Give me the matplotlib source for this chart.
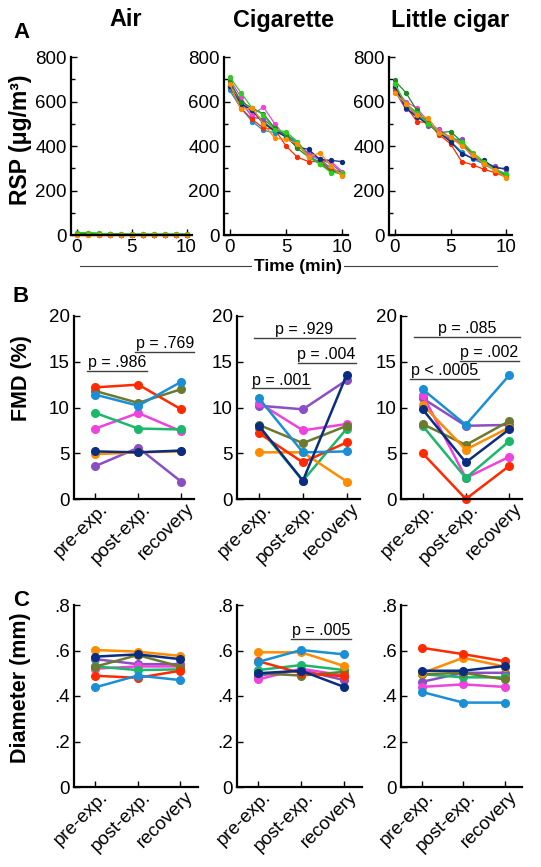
import matplotlib.pyplot as plt
from matplotlib.lines import Line2D
from matplotlib.ticker import MultipleLocator, FuncFormatter
import matplotlib.transforms as mtransforms

plt.rcParams['font.family'] = ['Liberation Sans', 'DejaVu Sans']

FS = 13.5      # tick labels
FS_P = 11.5    # p values

# colours of the subjects
c_red = '#ff2a00'
c_orange = '#ff8c00'
c_navy = '#0b2d80'
c_lblue = '#1a8fd6'
c_teal = '#19b86a'
c_olive = '#6b7a2e'
c_purple = '#8a4fc2'
c_magenta = '#ee44dd'
c_green = '#2fcc20'
c_dgreen = '#1f8a22'

# ---- panel A: RSP over time ----
time_min = [0, 1, 2, 3, 4, 5, 6, 7, 8, 9, 10]
colors_A = [c_teal, c_olive, c_purple, c_magenta, c_lblue, c_red, c_navy, c_dgreen, c_green, c_orange]

rsp_air = [
    [3, 3, 3, 2, 2, 2, 2, 2, 2, 2, 2],
    [4, 4, 3, 3, 2, 2, 2, 2, 2, 2, 2],
    [3, 3, 2, 2, 2, 2, 2, 2, 2, 2, 2],
    [3, 3, 3, 2, 2, 2, 2, 2, 2, 2, 2],
    [3, 3, 2, 2, 2, 2, 2, 2, 2, 2, 2],
    [2, 2, 2, 2, 2, 2, 2, 2, 2, 2, 2],
    [4, 3, 3, 3, 2, 2, 2, 2, 2, 2, 2],
    [10, 9, 7, 5, 4, 3, 3, 3, 3, 3, 3],
    [11, 11, 8, 5, 4, 3, 3, 3, 3, 3, 3],
    [2, 2, 2, 2, 2, 2, 2, 2, 2, 2, 2],
]
rsp_cig = [
    [670, 590, 560, 510, 460, 455, 410, 360, 320, 290, 280],
    [660, 590, 560, 510, 470, 450, 420, 360, 340, 300, 280],
    [690, 600, 530, 520, 480, 440, 400, 370, 340, 320, 280],
    [700, 620, 540, 575, 500, 440, 410, 360, 340, 330, 285],
    [650, 570, 510, 470, 460, 450, 410, 350, 330, 300, 275],
    [670, 570, 520, 480, 475, 400, 350, 330, 330, 290, 270],
    [670, 590, 560, 500, 470, 440, 395, 385, 340, 335, 330],
    [690, 600, 570, 545, 480, 450, 390, 350, 320, 285, 280],
    [710, 640, 570, 540, 470, 465, 420, 350, 320, 280, 280],
    [680, 565, 570, 500, 435, 430, 410, 350, 370, 310, 265],
]
rsp_lc = [
    [670, 590, 550, 505, 455, 430, 420, 360, 325, 295, 275],
    [680, 580, 550, 500, 455, 430, 410, 355, 320, 295, 270],
    [650, 565, 540, 490, 475, 430, 430, 350, 320, 310, 290],
    [660, 600, 570, 510, 470, 440, 410, 350, 320, 290, 265],
    [660, 580, 540, 500, 460, 420, 375, 340, 320, 290, 270],
    [660, 580, 510, 505, 450, 410, 330, 315, 295, 280, 260],
    [670, 570, 530, 500, 460, 420, 365, 345, 335, 300, 300],
    [695, 640, 560, 500, 460, 465, 420, 360, 320, 290, 270],
    [680, 590, 550, 500, 460, 440, 420, 370, 330, 290, 275],
    [640, 590, 540, 525, 460, 440, 400, 360, 320, 290, 255],
]

# ---- panels B and C: per subject pre-exp., post-exp., recovery ----
phases = ['pre-exp.', 'post-exp.', 'recovery']
colors_BC = [c_purple, c_magenta, c_teal, c_olive, c_orange, c_red, c_lblue, c_navy]

fmd_air = [
    [3.6, 5.6, 1.9],
    [7.7, 9.4, 7.4],
    [9.4, 7.7, 7.6],
    [11.8, 10.5, 12.0],
    [4.9, 5.1, 5.2],
    [12.2, 12.5, 9.8],
    [11.4, 10.2, 12.8],
    [5.2, 5.1, 5.3],
]
fmd_cig = [
    [10.2, 9.8, 13.0],
    [10.5, 7.5, 8.2],
    [7.8, 2.0, 7.7],
    [8.1, 6.1, 8.0],
    [5.1, 5.1, 1.9],
    [7.2, 4.0, 6.2],
    [11.0, 5.1, 5.2],
    [8.0, 2.0, 13.6],
]
fmd_lc = [
    [11.0, 8.0, 8.1],
    [11.4, 2.3, 4.6],
    [8.0, 2.3, 6.3],
    [8.2, 5.9, 8.5],
    [10.3, 5.4, 7.8],
    [5.0, 0.0, 3.6],
    [12.0, 8.1, 13.5],
    [9.8, 4.0, 7.6],
]

diam_air = [
    [0.562, 0.540, 0.540],
    [0.520, 0.530, 0.530],
    [0.530, 0.514, 0.517],
    [0.529, 0.580, 0.529],
    [0.602, 0.595, 0.576],
    [0.489, 0.480, 0.511],
    [0.438, 0.490, 0.470],
    [0.573, 0.583, 0.562],
]
diam_cig = [
    [0.490, 0.514, 0.470],
    [0.473, 0.520, 0.490],
    [0.514, 0.536, 0.514],
    [0.500, 0.490, 0.506],
    [0.592, 0.592, 0.532],
    [0.553, 0.500, 0.487],
    [0.550, 0.602, 0.583],
    [0.500, 0.511, 0.440],
]
diam_lc = [
    [0.462, 0.502, 0.502],
    [0.440, 0.451, 0.440],
    [0.496, 0.482, 0.482],
    [0.496, 0.502, 0.473],
    [0.500, 0.568, 0.529],
    [0.612, 0.584, 0.553],
    [0.418, 0.371, 0.371],
    [0.511, 0.511, 0.532],
]

W, H = 541, 867
fig = plt.figure(figsize=(W / 100, H / 100), dpi=100)


def add_ax(x0, x1, ytop, ybot):
    return fig.add_axes([x0 / W, 1 - ybot / H, (x1 - x0) / W, (ybot - ytop) / H])


def style(ax):
    for s in ['top', 'right']:
        ax.spines[s].set_visible(False)
    for s in ['left', 'bottom']:
        ax.spines[s].set_linewidth(1.6)
    ax.tick_params(which='both', direction='in', labelsize=FS, width=1, pad=3)
    ax.tick_params(which='major', length=4)
    ax.tick_params(which='minor', length=3)


def bracket(ax, x0, x1, y, txt):
    ax.plot([x0, x1], [y, y], color='#404040', linewidth=1, clip_on=False)
    ax.annotate(txt, xy=((x0 + x1) / 2, y), xytext=(0, 0.5), textcoords='offset points',
                ha='center', va='bottom', fontsize=FS_P, annotation_clip=False)


# panel A
axA = [add_ax(71, 192, 57, 235), add_ax(224, 348, 57, 235), add_ax(389, 512, 57, 235)]
for ax, data in zip(axA, [rsp_air, rsp_cig, rsp_lc]):
    for col, y in zip(colors_A, data):
        ax.plot(time_min, y, '-o', color=col, linewidth=0.9, markersize=2.8, clip_on=False)
    style(ax)
    ax.set_xlim(-0.5, 10.5)
    ax.set_ylim(0, 800)
    ax.set_xticks([0, 5, 10])
    ax.yaxis.set_major_locator(MultipleLocator(200))
    ax.yaxis.set_minor_locator(MultipleLocator(100))

# panel B
axB = [add_ax(74, 194, 316, 499), add_ax(237, 360, 316, 499), add_ax(401, 522, 316, 499)]
# panel C
axC = [add_ax(74, 198, 605, 787), add_ax(237, 362, 605, 787), add_ax(401, 522, 605, 787)]

for ax, data in zip(axB + axC, [fmd_air, fmd_cig, fmd_lc, diam_air, diam_cig, diam_lc]):
    for col, y in zip(colors_BC, data):
        ax.plot([1, 2, 3], y, '-o', color=col, linewidth=1.8, markersize=5.5, clip_on=False)
    style(ax)
    ax.set_xticks([1, 2, 3])
    ax.set_xticklabels(phases, rotation=45, ha='right', va='center', rotation_mode='anchor')
    offset = mtransforms.ScaledTranslation(10 / 100, -3 / 100, fig.dpi_scale_trans)
    for lab in ax.get_xticklabels():
        lab.set_transform(lab.get_transform() + offset)

for ax in axB:
    ax.set_xlim(0.5, 3.3)
    ax.set_ylim(0, 20)
    ax.set_yticks([0, 5, 10, 15, 20])

for ax in axC:
    ax.set_xlim(0.5, 3.42)
    ax.set_ylim(0, 0.8)
    ax.set_yticks([0, 0.2, 0.4, 0.6, 0.8])
    ax.yaxis.set_major_formatter(FuncFormatter(lambda v, p: '0' if v == 0 else f'{v:.1f}'.lstrip('0')))

bracket(axB[0], 0.81, 2.2, 14.0, 'p = .986')
bracket(axB[0], 1.93, 3.3, 16.1, 'p = .769')
bracket(axB[1], 0.89, 3.18, 17.6, 'p = .929')
bracket(axB[1], 1.88, 3.2, 14.9, 'p = .004')
bracket(axB[1], 0.84, 2.17, 12.1, 'p = .001')
bracket(axB[2], 0.81, 3.26, 17.7, 'p = .085')
bracket(axB[2], 1.86, 3.23, 15.1, 'p = .002')
bracket(axB[2], 0.7, 2.3, 13.1, 'p < .0005')
bracket(axC[1], 1.77, 3.16, 0.65, 'p = .005')

# titles, labels, panel letters
for x, t in [(126, 'Air'), (283, 'Cigarette'), (450, 'Little cigar')]:
    fig.text(x / W, 1 - 20 / H, t, ha='center', va='center', fontsize=16.8, fontweight='bold')
for y, t in [(33, 'A'), (297, 'B'), (600, 'C')]:
    fig.text(21 / W, 1 - y / H, t, ha='center', va='center', fontsize=16, fontweight='bold')

fig.text(21 / W, 1 - 140 / H, 'RSP (μg/m³)', rotation=90, ha='center', va='center', fontsize=16.5, fontweight='bold')
fig.text(21 / W, 1 - 378 / H, 'FMD (%)', rotation=90, ha='center', va='center', fontsize=15.5, fontweight='bold')
fig.text(21 / W, 1 - 688 / H, 'Diameter (mm)', rotation=90, ha='center', va='center', fontsize=15.5, fontweight='bold')

fig.add_artist(Line2D([80 / W, 497 / W], [1 - 266 / H, 1 - 266 / H], color='#404040', linewidth=0.8))
fig.text(298 / W, 1 - 266 / H, 'Time (min)', ha='center', va='center', fontsize=12.5, fontweight='bold',
         bbox=dict(facecolor='white', edgecolor='none', pad=1.5))

plt.savefig('out.png', dpi=100)
